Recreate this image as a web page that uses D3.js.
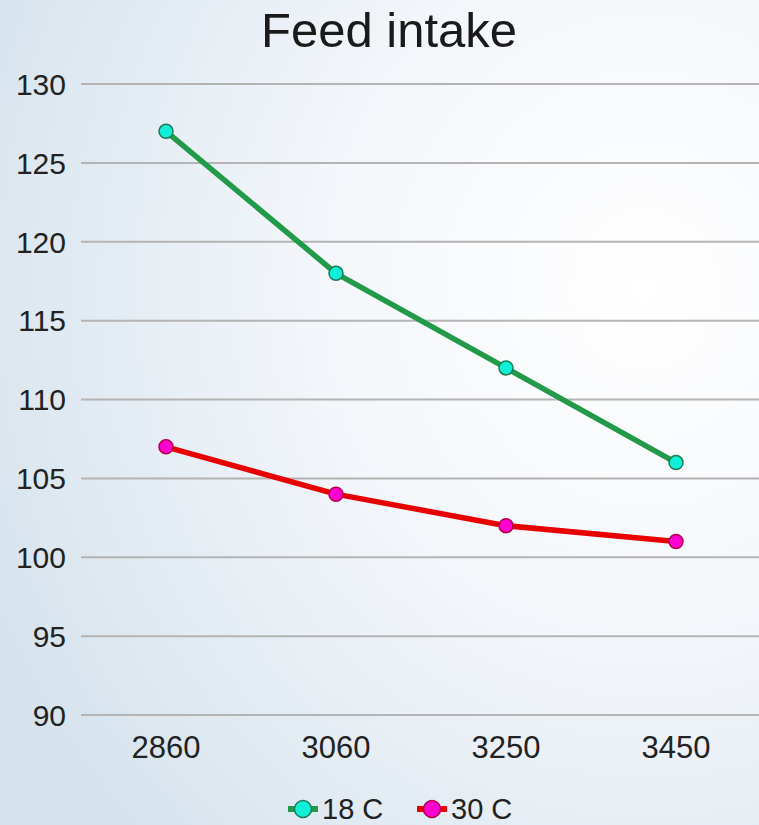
<!DOCTYPE html>
<html><head><meta charset="utf-8">
<script src="https://cdn.jsdelivr.net/npm/d3@7"></script>
<style>html,body{margin:0;padding:0;overflow:hidden}</style>
</head><body>
<script>
const categories = ["2860", "3060", "3250", "3450"];
const series18 = [127, 118, 112, 106];
const series30 = [107, 104, 102, 101];
const seriesNames = ["18 C", "30 C"];
const yTicks = [90, 95, 100, 105, 110, 115, 120, 125, 130];

const W = 759, H = 825;
const svg = d3.select("body").append("svg").attr("width", W).attr("height", H)
  .style("font-family", "Liberation Sans, Arial, sans-serif");

const defs = svg.append("defs");
const grad = defs.append("radialGradient").attr("id", "bg")
  .attr("cx", "0.85").attr("cy", "0.35").attr("r", "0.95");
grad.append("stop").attr("offset", "0").attr("stop-color", "#ffffff");
grad.append("stop").attr("offset", "0.45").attr("stop-color", "#f3f6fa");
grad.append("stop").attr("offset", "1").attr("stop-color", "#d6e3ed");
svg.append("rect").attr("width", W).attr("height", H).attr("fill", "url(#bg)");

const x = d3.scaleBand().domain(categories).range([81, 761]);
const y = d3.scaleLinear().domain([90, 130]).range([715, 84]);

svg.append("g").selectAll("line").data(yTicks).join("line")
  .attr("x1", 81).attr("x2", W)
  .attr("y1", d => y(d)).attr("y2", d => y(d))
  .attr("stroke", "#b4b4b4").attr("stroke-width", 2);

svg.append("g").selectAll("text").data(yTicks).join("text")
  .attr("x", 66).attr("y", d => y(d)).attr("dy", "0.36em")
  .attr("text-anchor", "end").attr("font-size", 30).attr("fill", "#222")
  .text(d => d);

svg.append("g").selectAll("text").data(categories).join("text")
  .attr("x", d => x(d) + x.bandwidth() / 2).attr("y", 758)
  .attr("text-anchor", "middle").attr("font-size", 31).attr("fill", "#222")
  .text(d => d);

svg.append("text").attr("x", 389).attr("y", 47).attr("text-anchor", "middle")
  .attr("font-size", 49).attr("fill", "#1a1a1a").text("Feed intake");

const series = [
  { name: seriesNames[0], values: series18, line: "#229a4a", fill: "#10f0d8", stroke: "#1e7a55" },
  { name: seriesNames[1], values: series30, line: "#e80000", fill: "#ff00d0", stroke: "#b0004a" }
];
const line = d3.line().x((d, i) => x(categories[i]) + x.bandwidth() / 2).y(d => y(d));

series.forEach(s => {
  svg.append("path").datum(s.values).attr("d", line)
    .attr("fill", "none").attr("stroke", s.line).attr("stroke-width", 5.5)
    .attr("stroke-linejoin", "round");
  svg.append("g").selectAll("circle").data(s.values).join("circle")
    .attr("cx", (d, i) => x(categories[i]) + x.bandwidth() / 2).attr("cy", d => y(d))
    .attr("r", 7).attr("fill", s.fill).attr("stroke", s.stroke).attr("stroke-width", 1.5);
});

const legendItems = [{ s: series[0], x: 288 }, { s: series[1], x: 417 }];
legendItems.forEach(li => {
  const g = svg.append("g").attr("transform", `translate(${li.x},809)`);
  g.append("line").attr("x1", 0).attr("x2", 30).attr("y1", 0).attr("y2", 0)
    .attr("stroke", li.s.line).attr("stroke-width", 6);
  g.append("circle").attr("cx", 15).attr("cy", 0).attr("r", 8.5)
    .attr("fill", li.s.fill).attr("stroke", li.s.stroke).attr("stroke-width", 1.5);
  g.append("text").attr("x", 34).attr("y", 10)
    .attr("font-size", 29).attr("fill", "#222").text(li.s.name);
});
</script>
</body></html>
